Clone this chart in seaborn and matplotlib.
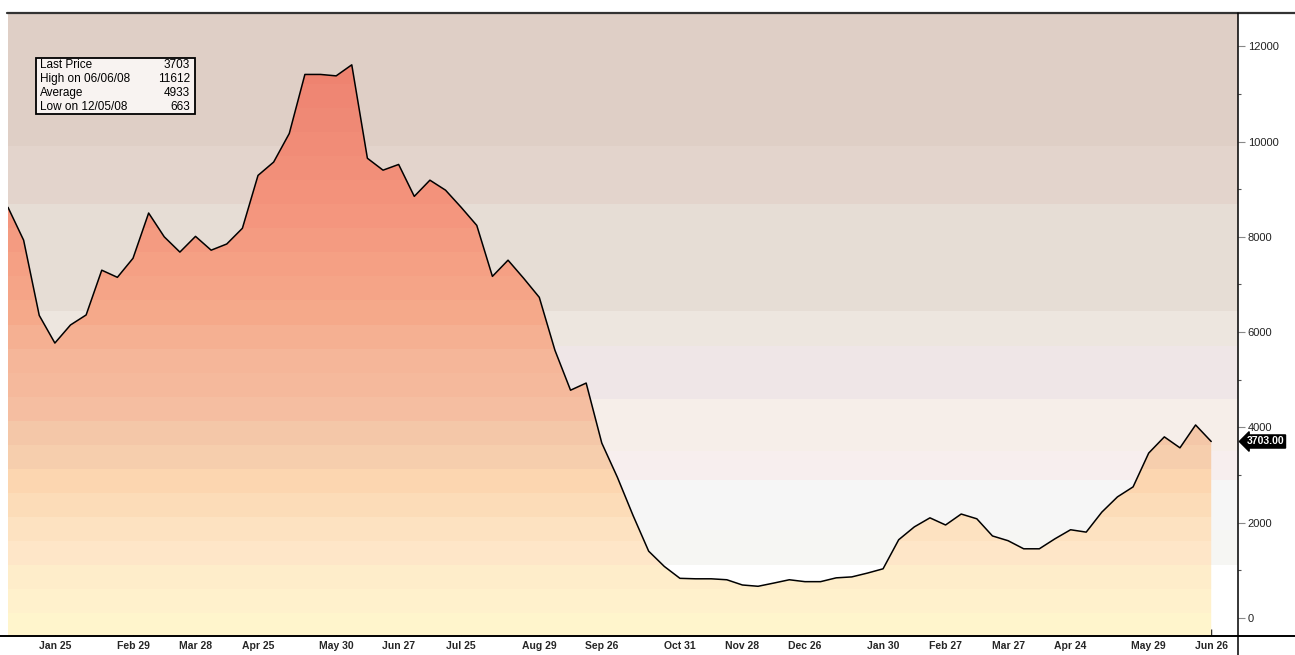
import pandas as pd
import numpy as np
import matplotlib
matplotlib.use("Agg")
import matplotlib.pyplot as plt
import matplotlib.dates as mdates
from matplotlib.colors import LinearSegmentedColormap
from matplotlib.lines import Line2D
from matplotlib.patches import Rectangle
import seaborn as sns

# weekly closes, Jan 2008 - Jun 2009
dates = pd.date_range("2008-01-04", periods=78, freq="7D")
values = [8620, 7930, 6350, 5770, 6150, 6360, 7300, 7150, 7550, 8500,
          8000, 7680, 8010, 7720, 7850, 8180, 9290, 9570, 10170, 11410,
          11410, 11380, 11612, 9650, 9400, 9520, 8850, 9190, 8980, 8620,
          8240, 7170, 7510, 7130, 6730, 5620, 4780, 4930, 3670, 2950,
          2150, 1400, 1080, 830, 820, 820, 800, 690, 663, 730,
          800, 760, 760, 840, 860, 940, 1030, 1640, 1910, 2100,
          1950, 2180, 2080, 1720, 1620, 1450, 1450, 1660, 1850, 1800,
          2220, 2540, 2750, 3460, 3800, 3570, 4050, 3703]

tick_dates = ["2008-01-25", "2008-02-29", "2008-03-28", "2008-04-25", "2008-05-30",
              "2008-06-27", "2008-07-25", "2008-08-29", "2008-09-26", "2008-10-31",
              "2008-11-28", "2008-12-26", "2009-01-30", "2009-02-27", "2009-03-27",
              "2009-04-24", "2009-05-29", "2009-06-26"]
tick_labels = ["Jan 25", "Feb 29", "Mar 28", "Apr 25", "May 30", "Jun 27", "Jul 25",
               "Aug 29", "Sep 26", "Oct 31", "Nov 28", "Dec 26", "Jan 30", "Feb 27",
               "Mar 27", "Apr 24", "May 29", "Jun 26"]

stats_labels = ["Last Price", "High on 06/06/08", "Average", "Low on 12/05/08"]
stats_values = ["3703", "11612", "4933", "663"]

# background bands above the line (value edges, colours)
bg_edges = [1100, 1850, 2900, 3500, 4600, 5700, 6450, 8700, 9900, 13000]
bg_colors = ["#f6f6f3", "#f6f6f6", "#f7eeee", "#f6eee9", "#efe6e7",
             "#ede6df", "#e6ddd5", "#e3d4cc", "#dfcfc6"]

# fill gradient anchors
fill_anchor_vals = [-400, 400, 1200, 2000, 2800, 3500, 4500, 5500, 6500, 7500, 9000, 10500, 12700]
fill_anchor_cols = ["#fff5cc", "#fff0cc", "#fee6c8", "#fddfbc", "#fcd6b0", "#f4cbac",
                    "#f6bc9f", "#f5b598", "#f5a98a", "#f5a084", "#f4937c", "#f08a76", "#ee7d6c"]

df = pd.DataFrame({"date": dates, "price": values})

sns.set_style("white")
fig = plt.figure(figsize=(12.95, 6.55), dpi=100)
ax = fig.add_axes([8 / 1295, 20 / 655, 1230 / 1295, 622 / 655])

ymin, ymax = -360, 12700
x0 = mdates.date2num(pd.Timestamp("2008-01-04"))
x1 = mdates.date2num(pd.Timestamp("2009-07-08"))

ax.axhspan(ymin, bg_edges[0], color="white", lw=0, zorder=0)
for lo, hi, c in zip(bg_edges[:-1], bg_edges[1:], bg_colors):
    ax.axhspan(lo, hi, color=c, lw=0, zorder=0)

# stepped gradient for the area under the line
lo, hi = fill_anchor_vals[0], fill_anchor_vals[-1]
cmap = LinearSegmentedColormap.from_list(
    "fillgrad", [((v - lo) / (hi - lo), c) for v, c in zip(fill_anchor_vals, fill_anchor_cols)])
n_bands = 26
band_vals = np.linspace(0, 1, n_bands)
grad = np.repeat(band_vals[:, None], 2, axis=1)
img = ax.imshow(grad, extent=[x0, x1, lo, hi], origin="lower", aspect="auto",
                cmap=cmap, interpolation="nearest", zorder=1)
xnum = mdates.date2num(dates)
poly = ax.fill_between(xnum, ymin, values, color="none", lw=0)
img.set_clip_path(poly.get_paths()[0], transform=ax.transData)

sns.lineplot(data=df, x="date", y="price", color="black", lw=1.1, ax=ax, zorder=3, legend=False)

ax.set_xlim(x0, x1)
ax.set_ylim(ymin, ymax)
ax.set_xlabel("")
ax.set_ylabel("")
for s in ax.spines.values():
    s.set_visible(False)

narrow = ["Liberation Sans", "DejaVu Sans"]

ax.set_xticks(mdates.date2num(pd.to_datetime(tick_dates)))
ax.set_xticklabels(tick_labels, family=narrow, fontsize=7.5, fontweight="bold")
ax.tick_params(axis="x", direction="in", length=4, width=1, color="black", pad=4, bottom=True)

ax.yaxis.tick_right()
ax.set_yticks(range(0, 12001, 2000))
ax.set_yticklabels([str(v) for v in range(0, 12001, 2000)], family=narrow)
ax.set_yticks(range(1000, 12001, 2000), minor=True)
ax.tick_params(axis="y", which="major", direction="out", length=5, width=0.8, color="#888888",
               labelsize=8, labelcolor="#222222", pad=2, right=True)
ax.tick_params(axis="y", which="minor", direction="out", length=2, width=0.8, color="#555555", right=True)

# last price tag
ax.annotate(f"{values[-1]:.2f}", xy=(1.0, values[-1]), xycoords=("axes fraction", "data"),
            xytext=(6, 0), textcoords="offset points", va="center", ha="left",
            color="white", fontsize=7.5, fontweight="bold", family=narrow,
            bbox=dict(boxstyle="larrow,pad=0.15", fc="black", ec="black"), annotation_clip=False)

# stats box
bx0, bx1 = (36 - 8) / 1230, (195 - 8) / 1230
by0, by1 = 1 - (114 - 13) / 622, 1 - (58 - 13) / 622
ax.add_patch(Rectangle((bx0, by0), bx1 - bx0, by1 - by0, transform=ax.transAxes,
                       fc="#f8f3f1", ec="black", lw=1.3, zorder=5))
row_h = (by1 - by0) / 4
for i, (lab, val) in enumerate(zip(stats_labels, stats_values)):
    yy = by1 - row_h * (i + 0.5)
    ax.text(bx0 + 0.003, yy, lab, transform=ax.transAxes, va="center", ha="left",
            family=narrow, fontsize=8.5, color="black", zorder=6)
    ax.text(bx1 - 0.004, yy, val, transform=ax.transAxes, va="center", ha="right",
            family=narrow, fontsize=8.5, color="black", zorder=6)

# frame lines running past the plot area
fig.add_artist(Line2D([7 / 1295, 1], [1 - 13 / 655, 1 - 13 / 655], color="#333333", lw=1.6))
fig.add_artist(Line2D([0, 1], [1 - 636 / 655, 1 - 636 / 655], color="black", lw=1.4))
fig.add_artist(Line2D([1238 / 1295, 1238 / 1295], [0, 1 - 13 / 655], color="black", lw=1.1))

fig.savefig("out.png", dpi=100, facecolor="white")
